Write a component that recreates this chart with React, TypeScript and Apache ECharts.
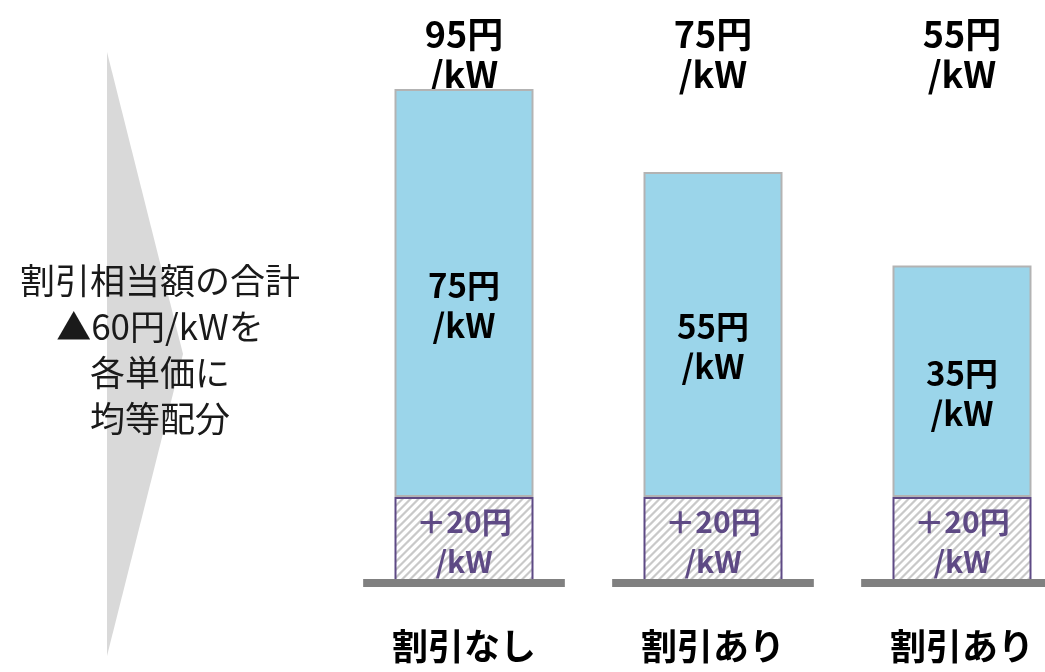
import React, { useEffect, useRef } from "react";
import * as echarts from "echarts";

const categories = ["割引なし", "割引あり", "割引あり"];
const addOnValues = [20, 20, 20];
// drawn heights of the blue segments
const blueBarValues = [96, 76.5, 54.5];
const totalLabels = [95, 75, 55];
const blueLabels = [75, 55, 35];
const noteLines = ["割引相当額の合計", "▲60円/kWを", "各単価に", "均等配分"];

const FONT = "'Noto Sans CJK JP', 'Noto Sans', sans-serif";
const BAR_W = 139;

export default function App() {
  const ref = useRef<HTMLDivElement>(null);
  useEffect(() => {
    if (!ref.current) return;
    const chart = echarts.init(ref.current, null, { renderer: "svg" });
    chart.setOption({
      animation: false,
      textStyle: { fontFamily: FONT },
      grid: { left: 464, width: 498, top: 72, height: 510 },
      xAxis: [
        {
          type: "category",
          data: categories,
          boundaryGap: false,
          axisLine: { show: false },
          axisTick: { show: false },
          axisLabel: {
            fontSize: 36,
            fontWeight: "bold",
            color: "#000",
            margin: 44,
            fontFamily: FONT,
          },
        },
        {
          type: "category",
          data: categories,
          boundaryGap: false,
          position: "top",
          axisLine: { show: false },
          axisTick: { show: false },
          axisLabel: {
            formatter: (_v: string, i: number) => `${totalLabels[i]}円\n/kW`,
            fontSize: 36,
            fontWeight: "bold",
            color: "#000",
            lineHeight: 40,
            margin: -20,
            fontFamily: FONT,
          },
        },
      ],
      yAxis: { type: "value", min: 0, max: 120, show: false },
      series: [
        {
          type: "custom",
          z: 2,
          data: addOnValues.map((v, i) => [i, v]),
          renderItem: (_params: any, api: any) => {
            const i = api.value(0);
            const top = api.coord([i, api.value(1)]);
            const bot = api.coord([i, 0]);
            const x0 = top[0] - BAR_W / 2 + 1;
            const x1 = top[0] + BAR_W / 2 - 1;
            const y0 = top[1] + 1;
            const y1 = bot[1] - 1;
            const children: any[] = [
              {
                type: "rect",
                shape: { x: x0, y: y0, width: x1 - x0, height: y1 - y0 },
                style: { fill: "#ffffff" },
              },
            ];
            const step = 8;
            for (let c = x0 + y0; c <= x1 + y1 + step; c += step) {
              const xa = Math.max(x0, c - y1);
              const xb = Math.min(x1, c - y0);
              if (xb - xa > 0.5) {
                children.push({
                  type: "line",
                  shape: { x1: xa, y1: c - xa, x2: xb, y2: c - xb },
                  style: { stroke: "#c9c9c9", lineWidth: 2.2 },
                });
              }
            }
            return { type: "group", children };
          },
        },
        {
          type: "bar",
          stack: "a",
          z: 3,
          data: addOnValues,
          barWidth: BAR_W,
          itemStyle: {
            color: "rgba(255,255,255,0)",
            borderColor: "#5e4a85",
            borderWidth: 2,
          },
          label: {
            show: true,
            position: "inside",
            formatter: (p: any) => `＋${addOnValues[p.dataIndex]}円\n/kW`,
            color: "#5e4a85",
            fontSize: 30,
            fontWeight: "bold",
            lineHeight: 40,
            textBorderWidth: 0,
            fontFamily: FONT,
          },
        },
        {
          type: "bar",
          stack: "a",
          z: 3,
          data: blueBarValues,
          barWidth: BAR_W,
          itemStyle: { color: "#9bd5ea", borderColor: "#b3b3b3", borderWidth: 2 },
          label: {
            show: true,
            position: "inside",
            offset: [0, 11],
            formatter: (p: any) => `${blueLabels[p.dataIndex]}円\n/kW`,
            color: "#000",
            fontSize: 33,
            fontWeight: "bold",
            lineHeight: 40,
            textBorderWidth: 0,
            fontFamily: FONT,
          },
        },
        {
          type: "custom",
          data: categories.map((_c, i) => [i, 0]),
          z: 5,
          renderItem: (_params: any, api: any) => {
            const p = api.coord([api.value(0), 0]);
            const w = api.size([1, 0])[0] * 0.81;
            return {
              type: "rect",
              shape: { x: p[0] - w / 2, y: p[1] - 3, width: w, height: 8 },
              style: { fill: "#808080" },
            };
          },
        },
      ],
      graphic: [
        {
          type: "polygon",
          shape: { points: [[107, 52], [183, 354], [107, 656]] },
          style: { fill: "#d9d9d9" },
          z: 1,
        },
        {
          type: "text",
          x: 160,
          y: 347,
          z: 10,
          style: {
            text: noteLines.join("\n"),
            fontSize: 35,
            fontFamily: FONT,
            fill: "#1a1a1a",
            align: "center",
            verticalAlign: "middle",
            lineHeight: 46,
          },
        },
      ],
    });
    return () => chart.dispose();
  }, []);
  return (
    <div
      ref={ref}
      style={{ position: "fixed", left: 0, top: 0, width: 1045, height: 672 }}
    />
  );
}
